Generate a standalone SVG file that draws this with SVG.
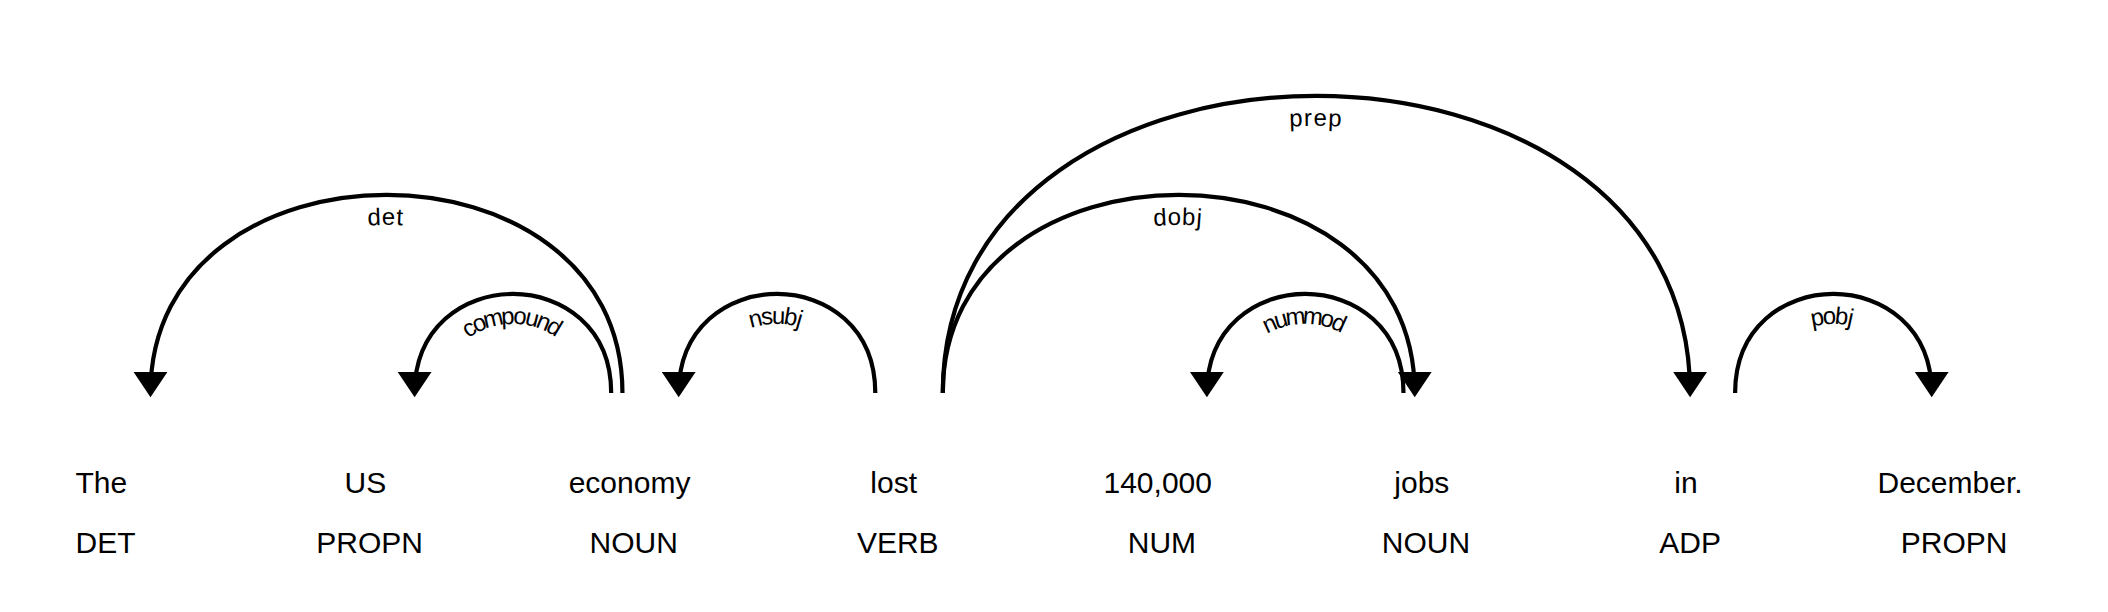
<svg xmlns="http://www.w3.org/2000/svg" width="2108" height="612" viewBox="0 0 2108 612">
<style>
  .tok { font-family: "Liberation Sans", Arial, sans-serif; font-size: 30px; fill: #000000; }
  .arc { fill: none; stroke: #000000; stroke-width: 4.2px; }
  .head { fill: #000000; }
  .lbl { font-family: "Liberation Sans", Arial, sans-serif; font-size: 24px; letter-spacing: 2.1px; fill: #000000; }
</style>
<rect x="0" y="0" width="2108" height="612" fill="#ffffff"/>
<g id="token-0"><text class="tok" text-anchor="middle" y="492.7"><tspan x="105.5">The</tspan> <tspan x="105.5" dy="2em">DET</tspan></text></g>
<g id="token-1"><text class="tok" text-anchor="middle" y="492.7"><tspan x="369.6">US</tspan> <tspan x="369.6" dy="2em">PROPN</tspan></text></g>
<g id="token-2"><text class="tok" text-anchor="middle" y="492.7"><tspan x="633.7">economy</tspan> <tspan x="633.7" dy="2em">NOUN</tspan></text></g>
<g id="token-3"><text class="tok" text-anchor="middle" y="492.7"><tspan x="897.8">lost</tspan> <tspan x="897.8" dy="2em">VERB</tspan></text></g>
<g id="token-4"><text class="tok" text-anchor="middle" y="492.7"><tspan x="1161.9">140,000</tspan> <tspan x="1161.9" dy="2em">NUM</tspan></text></g>
<g id="token-5"><text class="tok" text-anchor="middle" y="492.7"><tspan x="1426">jobs</tspan> <tspan x="1426" dy="2em">NOUN</tspan></text></g>
<g id="token-6"><text class="tok" text-anchor="middle" y="492.7"><tspan x="1690.1">in</tspan> <tspan x="1690.1" dy="2em">ADP</tspan></text></g>
<g id="token-7"><text class="tok" text-anchor="middle" y="492.7"><tspan x="1954.2">December.</tspan> <tspan x="1954.2" dy="2em">PROPN</tspan></text></g>
<g id="connectors">
  <g id="arrow-det">
    <path class="arc" id="arc-det" d="M150.5,393 C150.5,128.9 622.45,128.9 622.45,393"/>
    <text class="lbl" dy="1.25em"><textPath href="#arc-det" startOffset="50%" text-anchor="middle">det</textPath></text>
    <path class="head" d="M150.5,397.2 L133.6,371.9 167.4,371.9 Z"/>
  </g>
  <g id="arrow-compound">
    <path class="arc" id="arc-compound" d="M414.6,393 C414.6,260.95 611.2,260.95 611.2,393"/>
    <text class="lbl" dy="1.25em"><textPath href="#arc-compound" startOffset="50%" text-anchor="middle">compound</textPath></text>
    <path class="head" d="M414.6,397.2 L397.7,371.9 431.5,371.9 Z"/>
  </g>
  <g id="arrow-nsubj">
    <path class="arc" id="arc-nsubj" d="M678.7,393 C678.7,260.95 875.3,260.95 875.3,393"/>
    <text class="lbl" dy="1.25em"><textPath href="#arc-nsubj" startOffset="50%" text-anchor="middle">nsubj</textPath></text>
    <path class="head" d="M678.7,397.2 L661.8,371.9 695.6,371.9 Z"/>
  </g>
  <g id="arrow-dobj">
    <path class="arc" id="arc-dobj" d="M942.8,393 C942.8,128.9 1414.75,128.9 1414.75,393"/>
    <text class="lbl" dy="1.25em"><textPath href="#arc-dobj" startOffset="50%" text-anchor="middle">dobj</textPath></text>
    <path class="head" d="M1414.75,397.2 L1431.65,371.9 1397.85,371.9 Z"/>
  </g>
  <g id="arrow-nummod">
    <path class="arc" id="arc-nummod" d="M1206.9,393 C1206.9,260.95 1403.5,260.95 1403.5,393"/>
    <text class="lbl" dy="1.25em"><textPath href="#arc-nummod" startOffset="50%" text-anchor="middle">nummod</textPath></text>
    <path class="head" d="M1206.9,397.2 L1190,371.9 1223.8,371.9 Z"/>
  </g>
  <g id="arrow-prep">
    <path class="arc" id="arc-prep" d="M942.8,393 C942.8,-3.15 1690.1,-3.15 1690.1,393"/>
    <text class="lbl" dy="1.25em"><textPath href="#arc-prep" startOffset="50%" text-anchor="middle">prep</textPath></text>
    <path class="head" d="M1690.1,397.2 L1707,371.9 1673.2,371.9 Z"/>
  </g>
  <g id="arrow-pobj">
    <path class="arc" id="arc-pobj" d="M1735.1,393 C1735.1,260.95 1931.7,260.95 1931.7,393"/>
    <text class="lbl" dy="1.25em"><textPath href="#arc-pobj" startOffset="50%" text-anchor="middle">pobj</textPath></text>
    <path class="head" d="M1931.7,397.2 L1948.6,371.9 1914.8,371.9 Z"/>
  </g>
</g>
</svg>
